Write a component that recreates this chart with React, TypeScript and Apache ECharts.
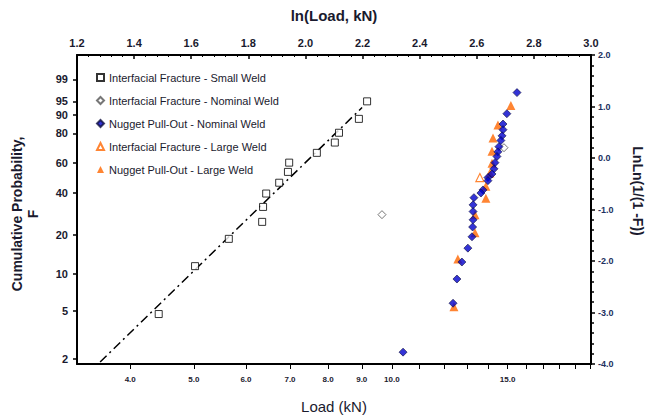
import React, { useEffect, useRef } from "react";
import * as echarts from "echarts";

// Weibull plot: x = ln(Load), y = ln(ln(1/(1-F)))
const lnMin = 1.2;
const lnMax = 3.0;
const loadTickValues = [4, 5, 6, 7, 8, 9, 10, 11, 12, 13, 14, 15, 16, 17, 18, 19, 20];
const loadLabelValues = [4, 5, 6, 7, 8, 9, 10, 15];
const probLabels = [2, 5, 10, 20, 40, 60, 80, 90, 95, 99];

const smallWeldLoad = [4.42, 5.02, 5.65, 6.35, 6.37, 6.44, 6.74, 6.95, 6.98, 7.69, 8.19, 8.31, 8.91, 9.17];
const smallWeldLnLn = [-3.03, -2.1, -1.57, -1.24, -0.95, -0.69, -0.48, -0.27, -0.09, 0.1, 0.3, 0.49, 0.76, 1.1];

const nominalIfLoad = [9.66, 14.81];
const nominalIfLnLn = [-1.1, 0.2];

const nominalNpoLoad = [15.5, 14.96, 14.76, 14.76, 14.71, 14.65, 14.55, 14.5, 14.45, 14.35, 14.3, 14.2, 14.0, 14.0, 13.76, 13.66, 13.33, 13.29, 13.29, 13.29, 13.27, 13.24, 13.05, 12.78, 12.56, 12.39, 10.4];
const nominalNpoLnLn = [1.27, 0.86, 0.66, 0.55, 0.43, 0.34, 0.22, 0.12, 0.03, -0.09, -0.21, -0.31, -0.38, -0.44, -0.62, -0.68, -0.77, -0.91, -1.04, -1.2, -1.34, -1.53, -1.75, -2.02, -2.35, -2.82, -3.77];

const largeIfLoad = [13.61];
const largeIfLnLn = [-0.38];

const largeNpoLoad = [15.17, 14.5, 14.25, 14.2, 14.2, 14.1, 13.9, 13.9, 13.38, 13.38, 12.6, 12.43];
const largeNpoLnLn = [1.02, 0.64, 0.39, 0.13, -0.1, -0.29, -0.55, -0.78, -1.1, -1.45, -1.96, -2.89];

// fitted line for the small-weld set
const fitLoad = [3.6, 9.01];
const fitLnLn = [-3.96, 0.98];

const FONT = "Liberation Sans, Arial, sans-serif";

const weibull = (pct: number) => Math.log(Math.log(1 / (1 - pct / 100)));
const probValues = probLabels.map(weibull);

const pairs = (loads: number[], ys: number[]) => loads.map((l, i) => [Math.log(l), ys[i]]);

export default function App() {
  const ref = useRef<HTMLDivElement>(null);

  useEffect(() => {
    if (!ref.current) return;
    const chart = echarts.init(ref.current, undefined, { renderer: "svg" });
    const axisLine = { show: true, onZero: false, lineStyle: { color: "#000", width: 2 } };

    chart.setOption({
      animation: false,
      backgroundColor: "#fff",
      grid: { left: 77, right: 61, top: 55, bottom: 52, containLabel: false },
      legend: {
        orient: "vertical",
        left: 96,
        top: 72,
        itemWidth: 7,
        itemHeight: 7,
        itemGap: 12,
        padding: 0,
        textStyle: { fontFamily: FONT, fontSize: 11, color: "#1a1a2e", lineHeight: 10 },
        data: [
          "Interfacial Fracture - Small Weld",
          "Interfacial Fracture - Nominal Weld",
          "Nugget Pull-Out - Nominal Weld",
          "Interfacial Fracture - Large Weld",
          "Nugget Pull-Out - Large Weld",
        ],
      },
      xAxis: [
        {
          type: "value",
          position: "bottom",
          min: lnMin,
          max: lnMax,
          axisLine,
          splitLine: { show: false },
          axisTick: {
            show: true,
            inside: false,
            length: 5,
            lineStyle: { color: "#000", width: 1 },
            customValues: loadTickValues.map((v) => Math.log(v)),
          },
          axisLabel: {
            show: true,
            margin: 11,
            fontFamily: FONT,
            fontSize: 8,
            fontWeight: "bold",
            color: "#1a1a2e",
            customValues: loadLabelValues.map((v) => Math.log(v)),
            formatter: (v: number) => Math.exp(v).toFixed(1),
          },
        },
        {
          type: "value",
          position: "top",
          min: lnMin,
          max: lnMax,
          interval: 0.2,
          axisLine,
          splitLine: { show: false },
          axisTick: { show: true, inside: true, length: 4, lineStyle: { color: "#000", width: 1.5 } },
          minorTick: { show: true, splitNumber: 5, length: 2, lineStyle: { color: "#000", width: 1 } },
          axisLabel: {
            margin: 7,
            fontFamily: FONT,
            fontSize: 11,
            fontWeight: "bold",
            color: "#1a1a2e",
            formatter: (v: number) => v.toFixed(1),
          },
        },
      ],
      yAxis: [
        {
          type: "value",
          position: "left",
          min: -4,
          max: 2,
          axisLine,
          splitLine: { show: false },
          axisTick: {
            show: true,
            length: 4,
            lineStyle: { color: "#000", width: 1.5 },
            customValues: probValues,
          },
          axisLabel: {
            margin: 9,
            fontFamily: FONT,
            fontSize: 11,
            fontWeight: "bold",
            color: "#1a1a2e",
            customValues: probValues,
            formatter: (v: number) => {
              const i = probValues.findIndex((p) => Math.abs(p - v) < 1e-6);
              return i >= 0 ? String(probLabels[i]) : "";
            },
          },
        },
        {
          type: "value",
          position: "right",
          min: -4,
          max: 2,
          interval: 1,
          axisLine,
          splitLine: { show: false },
          axisTick: { show: true, length: 4, lineStyle: { color: "#000", width: 1.5 } },
          minorTick: { show: true, splitNumber: 5, length: 3, lineStyle: { color: "#000", width: 1.5 } },
          axisLabel: {
            margin: 7,
            fontFamily: FONT,
            fontSize: 9,
            fontWeight: "bold",
            color: "#223060",
            formatter: (v: number) => v.toFixed(1),
          },
        },
      ],
      graphic: [
        {
          type: "text",
          x: 334,
          y: 15,
          style: { text: "ln(Load, kN)", fontFamily: FONT, fontSize: 15, fontWeight: "bold", fill: "#1a1a2e", align: "center", verticalAlign: "middle" },
        },
        {
          type: "text",
          x: 334,
          y: 406,
          style: { text: "Load (kN)", fontFamily: FONT, fontSize: 15, fill: "#1a1a2e", align: "center", verticalAlign: "middle" },
        },
        {
          type: "text",
          x: 25,
          y: 214,
          rotation: Math.PI / 2,
          style: {
            text: "Cumulative Probability,\nF",
            fontFamily: FONT,
            fontSize: 14,
            fontWeight: "bold",
            lineHeight: 16,
            fill: "#1a1a2e",
            align: "center",
            verticalAlign: "middle",
          },
        },
        {
          type: "text",
          x: 638,
          y: 191,
          rotation: -Math.PI / 2,
          style: { text: "LnLn(1/(1 -F))", fontFamily: FONT, fontSize: 14, fontWeight: "bold", fill: "#1a1a2e", align: "center", verticalAlign: "middle" },
        },
      ],
      series: [
        {
          name: "fit",
          type: "line",
          xAxisIndex: 0,
          yAxisIndex: 1,
          data: pairs(fitLoad, fitLnLn),
          showSymbol: false,
          symbol: "none",
          silent: true,
          lineStyle: { color: "#000", width: 1.5, type: [9, 4, 2, 4] },
          z: 1,
        },
        {
          name: "Interfacial Fracture - Small Weld",
          type: "scatter",
          xAxisIndex: 0,
          yAxisIndex: 1,
          data: pairs(smallWeldLoad, smallWeldLnLn),
          symbol: "rect",
          symbolSize: 7,
          itemStyle: { color: "#fff", borderColor: "#000", borderWidth: 1 },
        },
        {
          name: "Interfacial Fracture - Nominal Weld",
          type: "scatter",
          xAxisIndex: 0,
          yAxisIndex: 1,
          data: pairs(nominalIfLoad, nominalIfLnLn),
          symbol: "diamond",
          symbolSize: 8,
          itemStyle: { color: "#fff", borderColor: "#555", borderWidth: 1 },
        },
        {
          name: "Nugget Pull-Out - Nominal Weld",
          type: "scatter",
          xAxisIndex: 0,
          yAxisIndex: 1,
          data: pairs(nominalNpoLoad, nominalNpoLnLn),
          symbol: "diamond",
          symbolSize: 8,
          itemStyle: { color: "#0000cc", borderColor: "#101040", borderWidth: 0.8 },
          z: 3,
        },
        {
          name: "Interfacial Fracture - Large Weld",
          type: "scatter",
          xAxisIndex: 0,
          yAxisIndex: 1,
          data: pairs(largeIfLoad, largeIfLnLn),
          symbol: "triangle",
          symbolSize: 8,
          itemStyle: { color: "#fff", borderColor: "#ff6600", borderWidth: 1.2 },
        },
        {
          name: "Nugget Pull-Out - Large Weld",
          type: "scatter",
          xAxisIndex: 0,
          yAxisIndex: 1,
          data: pairs(largeNpoLoad, largeNpoLnLn),
          symbol: "triangle",
          symbolSize: 9,
          itemStyle: { color: "#ff6600" },
          z: 2,
        },
      ],
    });

    return () => chart.dispose();
  }, []);

  return <div ref={ref} style={{ position: "absolute", left: 0, top: 0, width: 652, height: 416 }} />;
}
